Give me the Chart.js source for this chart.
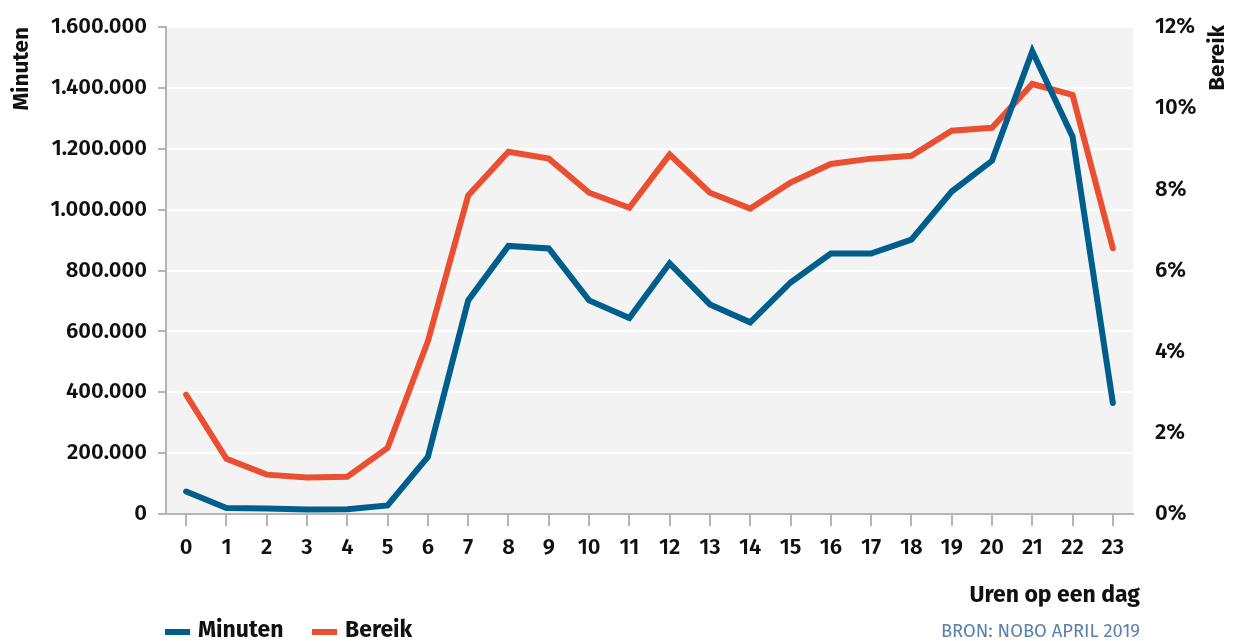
<!DOCTYPE html>
<html>
<head>
<meta charset="utf-8">
<script src="https://cdn.jsdelivr.net/npm/chart.js@4/dist/chart.umd.min.js"></script>
<style>
  html, body { margin: 0; padding: 0; background: #ffffff; }
  #wrap { width: 1237px; height: 641px; }
</style>
</head>
<body>
<div id="wrap"><canvas id="c" width="1237" height="641"></canvas></div>
<script>
// Hours of the day (x axis)
const hours = ['0','1','2','3','4','5','6','7','8','9','10','11','12','13','14','15','16','17','18','19','20','21','22','23'];

// Minutes watched per hour (left axis)
const minuten = [74000, 20000, 18000, 15000, 16000, 28000, 188000, 702000, 881000, 873000, 702000, 644000,
                 824000, 689000, 630000, 761000, 856000, 856000, 902000, 1060000, 1161000, 1521000, 1240000, 365000];

// Reach per hour in percent (right axis)
const bereik = [2.94, 1.36, 0.97, 0.90, 0.92, 1.63, 4.26, 7.85, 8.93, 8.76, 7.92, 7.55,
                8.86, 7.92, 7.53, 8.17, 8.63, 8.76, 8.83, 9.45, 9.52, 10.60, 10.33, 6.55];

// Axis ranges
const minutenMax = 1600000;
const minutenStep = 200000;
const bereikMax = 12;
const bereikStep = 2;

const seriesNames = ['Minuten', 'Bereik'];
const seriesColors = ['#005e8c', '#e94f30'];

const FONT = '"Fira Sans", "Open Sans", "Noto Sans", sans-serif';
const AXIS_GREY = '#b4b4b4';
const TICK_FONT = { family: FONT, size: 22, weight: '600' };

function dotted(n) {
  return String(Math.round(n)).replace(/\B(?=(\d{3})+(?!\d))/g, '.');
}

// Light grey panel behind the plot
const panelBg = {
  id: 'panelBg',
  beforeDraw(chart) {
    const { ctx, chartArea: a } = chart;
    ctx.save();
    ctx.fillStyle = '#f3f3f3';
    ctx.fillRect(a.left, a.top, a.right - a.left, a.bottom - a.top);
    ctx.restore();
  }
};

// Axis titles, x caption, legend and source line
const annotations = {
  id: 'annotations',
  afterDraw(chart) {
    const { ctx } = chart;
    ctx.save();
    ctx.fillStyle = '#111111';
    ctx.font = '700 22.5px ' + FONT;
    ctx.textBaseline = 'middle';

    // rotated axis titles, reading bottom to top, aligned to the top
    ctx.save();
    ctx.translate(22, 27);
    ctx.rotate(-Math.PI / 2);
    ctx.textAlign = 'right';
    ctx.fillText('Minuten', 0, 0);
    ctx.restore();

    ctx.save();
    ctx.translate(1218, 25);
    ctx.rotate(-Math.PI / 2);
    ctx.textAlign = 'right';
    ctx.fillText('Bereik', 0, 0);
    ctx.restore();

    // x axis caption
    ctx.font = '700 23px ' + FONT;
    ctx.textAlign = 'right';
    ctx.fillText('Uren op een dag', 1140, 596);

    // legend
    const legendX = [165, 312];
    chart.data.datasets.forEach((ds, i) => {
      const x = legendX[i];
      ctx.strokeStyle = ds.borderColor;
      ctx.lineWidth = 6;
      ctx.lineCap = 'butt';
      ctx.beginPath();
      ctx.moveTo(x, 632);
      ctx.lineTo(x + 25, 632);
      ctx.stroke();
      ctx.fillStyle = '#111111';
      ctx.textAlign = 'left';
      ctx.fillText(ds.label, x + 33, 631);
    });

    // source
    ctx.font = '400 18.4px ' + FONT;
    ctx.fillStyle = '#5b80aa';
    ctx.textAlign = 'right';
    ctx.fillText('BRON: NOBO APRIL 2019', 1140, 632);
    ctx.restore();
  }
};

new Chart(document.getElementById('c'), {
  type: 'line',
  data: {
    labels: hours,
    datasets: [
      {
        label: seriesNames[0],
        data: minuten,
        yAxisID: 'y',
        borderColor: seriesColors[0],
        backgroundColor: seriesColors[0],
        borderWidth: 6,
        borderCapStyle: 'round',
        borderJoinStyle: 'miter',
        pointRadius: 0,
        tension: 0
      },
      {
        label: seriesNames[1],
        data: bereik,
        yAxisID: 'y1',
        borderColor: seriesColors[1],
        backgroundColor: seriesColors[1],
        borderWidth: 6,
        borderCapStyle: 'round',
        borderJoinStyle: 'miter',
        pointRadius: 0,
        tension: 0
      }
    ]
  },
  options: {
    responsive: false,
    animation: false,
    layout: { padding: { top: 26, left: 0, right: 0, bottom: 0 } },
    plugins: {
      legend: { display: false },
      tooltip: { enabled: false }
    },
    scales: {
      x: {
        type: 'category',
        offset: true,
        grid: {
          drawOnChartArea: false,
          drawTicks: true,
          tickLength: 12,
          tickColor: AXIS_GREY,
          lineWidth: 2
        },
        border: { display: true, color: AXIS_GREY, width: 2 },
        ticks: {
          color: '#111111',
          font: TICK_FONT,
          padding: 9,
          maxRotation: 0,
          autoSkip: false
        },
        afterFit(scale) { scale.height = 127; }
      },
      y: {
        position: 'left',
        min: 0,
        max: minutenMax,
        grid: {
          color: '#ffffff',
          lineWidth: 2,
          tickColor: AXIS_GREY,
          tickLength: 8
        },
        border: { display: true, color: AXIS_GREY, width: 2 },
        ticks: {
          stepSize: minutenStep,
          color: '#111111',
          font: TICK_FONT,
          padding: 11,
          callback: (v) => dotted(v)
        },
        afterFit(scale) { scale.width = 166; }
      },
      y1: {
        position: 'right',
        min: 0,
        max: bereikMax,
        grid: { display: false, drawOnChartArea: false },
        border: { display: false },
        ticks: {
          stepSize: bereikStep,
          color: '#111111',
          font: TICK_FONT,
          padding: 14,
          callback: (v) => v + '%'
        },
        afterFit(scale) { scale.width = 104; }
      }
    }
  },
  plugins: [panelBg, annotations]
});
</script>
</body>
</html>
